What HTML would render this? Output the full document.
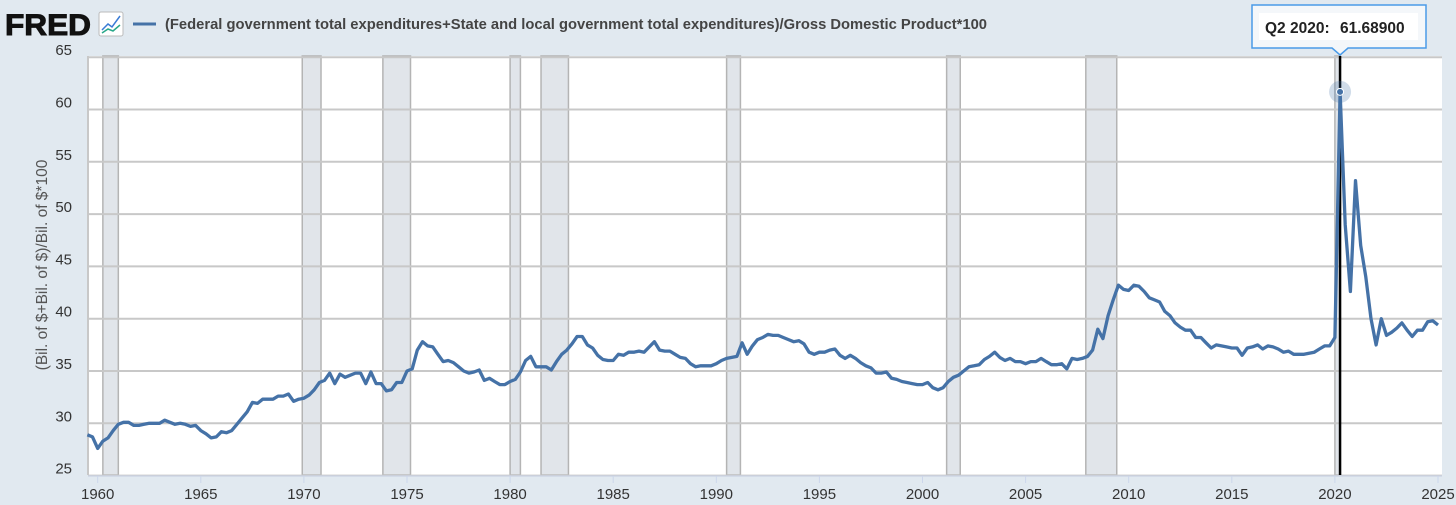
<!DOCTYPE html>
<html><head><meta charset="utf-8"><style>
body{margin:0;width:1456px;height:505px;background:#e1e9f0;overflow:hidden;font-family:"Liberation Sans",sans-serif}
svg{position:absolute;left:0;top:0}
</style></head><body>
<svg id="c" width="1456" height="505">
<g id="hdr">
<text x="5" y="35" font-size="30" font-weight="bold" fill="#111" stroke="#111" stroke-width="1" textLength="86" lengthAdjust="spacingAndGlyphs">FRED</text>
<g><rect x="99" y="12" width="24" height="24" rx="2" fill="#fff" stroke="#bbb"/><polyline points="102,30 108,24 112,27 120,16" fill="none" stroke="#3a7bd5" stroke-width="1.5"/><polyline points="102,33 108,29 113,31 120,25" fill="none" stroke="#2aa88a" stroke-width="1.5"/></g>
<line x1="133" y1="24" x2="156" y2="24" stroke="#4572a7" stroke-width="3"/>
<text x="165" y="29" font-size="14.5" font-weight="bold" fill="#444" textLength="822" lengthAdjust="spacingAndGlyphs">(Federal government total expenditures+State and local government total expenditures)/Gross Domestic Product*100</text>
</g>
<text transform="translate(47,265) rotate(-90)" text-anchor="middle" font-size="15.5" fill="#555">(Bil. of $+Bil. of $)/Bil. of $*100</text>
<g id="plot"></g>
</svg>
<script>
const yTicks=[25,30,35,40,45,50,55,60,65];
const xTicks=[1960,1965,1970,1975,1980,1985,1990,1995,2000,2005,2010,2015,2020,2025];
const recStart=[1960.25,1969.92,1973.83,1980.0,1981.5,1990.5,2001.17,2007.92,2020.0];
const recEnd=[1961.0,1970.83,1975.17,1980.5,1982.83,1991.17,2001.83,2009.42,2020.25];
const startYear=1959.5;
const values=[28.9,28.7,
27.6,28.3,28.6,29.3, 29.9,30.1,30.1,29.8, 29.8,29.9,30.0,30.0, 30.0,30.3,30.1,29.9, 30.0,29.9,29.7,29.8,
29.3,29.0,28.6,28.7, 29.2,29.1,29.3,29.9, 30.5,31.1,32.0,31.9, 32.3,32.3,32.3,32.6, 32.6,32.8,32.1,32.3,
32.4,32.7,33.2,33.9, 34.1,34.8,33.8,34.7, 34.4,34.6,34.8,34.8, 33.8,34.9,33.8,33.8, 33.1,33.2,33.9,33.9,
35.0,35.2,37.0,37.8, 37.4,37.3,36.6,35.9, 36.0,35.8,35.4,35.0, 34.8,34.9,35.1,34.1, 34.3,34.0,33.7,33.7,
34.0,34.2,34.9,36.0, 36.4,35.4,35.4,35.4, 35.1,35.9,36.6,37.0, 37.6,38.3,38.3,37.5, 37.2,36.5,36.1,36.0,
36.0,36.6,36.5,36.8, 36.8,36.9,36.8,37.3, 37.8,37.0,36.9,36.9, 36.6,36.3,36.2,35.7, 35.4,35.5,35.5,35.5,
35.7,36.0,36.2,36.3, 36.4,37.7,36.6,37.4, 38.0,38.2,38.5,38.4, 38.4,38.2,38.0,37.8, 37.9,37.6,36.8,36.6,
36.8,36.8,37.0,37.1, 36.5,36.2,36.5,36.2, 35.8,35.5,35.3,34.8, 34.8,34.9,34.3,34.2, 34.0,33.9,33.8,33.7,
33.7,33.9,33.4,33.2, 33.4,34.0,34.4,34.6, 35.0,35.4,35.5,35.6, 36.1,36.4,36.8,36.3, 36.0,36.2,35.9,35.9,
35.7,35.9,35.9,36.2, 35.9,35.6,35.6,35.7, 35.2,36.2,36.1,36.2, 36.4,37.0,39.0,38.1, 40.3,41.8,43.2,42.8,
42.7,43.2,43.1,42.6, 42.0,41.8,41.6,40.7, 40.3,39.6,39.2,38.9, 38.9,38.2,38.2,37.7, 37.2,37.5,37.4,37.3,
37.2,37.2,36.5,37.2, 37.3,37.5,37.1,37.4, 37.3,37.1,36.8,36.9, 36.6,36.6,36.6,36.7, 36.8,37.1,37.4,37.4,
38.2,61.689,49.0,42.6, 53.2,47.0,44.0,40.0, 37.5,40.0,38.4,38.7, 39.1,39.6,38.9,38.3, 38.9,38.9,39.7,39.8,
39.4];
const hlIndex=243;
const L=88,R=1442,T=56,B=475;
const X=yr=>97.7+(yr-1960)*20.62;
const Y=v=>423.3-(v-30)*10.46;
const ns='http://www.w3.org/2000/svg';
const g=document.getElementById('plot');
function mk(tag,at,parent){const e=document.createElementNS(ns,tag);for(const k in at)e.setAttribute(k,at[k]);(parent||g).appendChild(e);return e;}
const bg=mk('rect',{x:L,y:T,width:R-L,height:B-T,fill:'#fff'});


recStart.forEach((s,i)=>{
  const r=mk('rect',{x:X(s),y:T,width:X(recEnd[i])-X(s),height:B-T,fill:'#e1e5ea',stroke:'#b4b4b4','stroke-width':1.5});
  
  
});
yTicks.forEach(v=>{
  const l=mk('line',{x1:L,x2:R,y1:Y(v),y2:Y(v),stroke:'#c8c8c8','stroke-width':2});
  
  
  const t=mk('text',{x:72,y:Y(v)-2,'text-anchor':'end','font-size':15,fill:'#333'});
  t.textContent=v;
  
  
});
const ax=mk('line',{x1:L,x2:L,y1:T,y2:B,stroke:'#c8c8c8','stroke-width':2});


const bx=mk('line',{x1:L,x2:R,y1:B+1,y2:B+1,stroke:'#ccd6eb','stroke-width':1});


xTicks.forEach(yr=>{
  const tk=mk('line',{x1:X(yr),x2:X(yr),y1:B+1,y2:B+8,stroke:'#ccd6eb'});
  
  
  const t=mk('text',{x:X(yr),y:499,'text-anchor':'middle','font-size':15,fill:'#333'});
  t.textContent=yr;
  
  
});
const hx=X(startYear+hlIndex*0.25);
const vl=mk('line',{x1:hx,x2:hx,y1:T,y2:B,stroke:'#000','stroke-width':2.5});


const pts=values.map((v,i)=>X(startYear+i*0.25).toFixed(1)+','+Y(v).toFixed(1)).join(' ');
const pl=mk('polyline',{points:pts,fill:'none',stroke:'#4572a7','stroke-width':3.3,'stroke-linejoin':'round'});


const hy=Y(values[hlIndex]);
const halo=mk('circle',{cx:hx,cy:hy,r:11,fill:'#4572a7','fill-opacity':0.25});


const dot=mk('circle',{cx:hx,cy:hy,r:3.5,fill:'#4572a7',stroke:'#fff','stroke-width':1});


const tg=mk('g',{});


mk('path',{d:`M1252,5 H1426 V48 H${hx+8} L${hx},55 L${hx-8},48 H1252 Z`,fill:'#f4f7fa',stroke:'#4a9be8','stroke-width':1.5},tg);
mk('rect',{x:1259,y:13,width:159,height:27,fill:'#fff'},tg);
const tt=mk('text',{x:1265,y:33,'font-size':15.5,'font-weight':'bold',fill:'#222'},tg);
tt.textContent='Q2 2020:';


const tv=mk('text',{x:1340,y:33,'font-size':15.5,'font-weight':'bold',fill:'#222'},tg);
tv.textContent=values[hlIndex].toFixed(5);


</script>
</body></html>
